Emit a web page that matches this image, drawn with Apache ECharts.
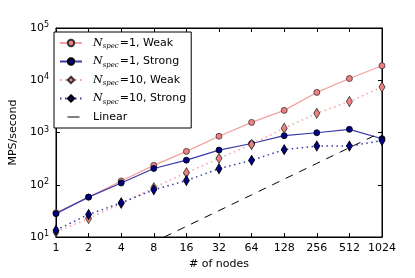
<!DOCTYPE html>
<html><head><meta charset="utf-8">
<script src="https://cdn.jsdelivr.net/npm/echarts@6/dist/echarts.min.js"></script>
<style>html,body{margin:0;padding:0;background:#fff}#c{width:415px;height:278px}</style>
</head><body><div id="c"></div>
<script>
const nodes = [1,2,4,8,16,32,64,128,256,512,1024];
const weak1 = [29,58,118,235,435,850,1560,2650,5850,10800,19000];
const strong1 = [28,58,108,205,296,460,615,870,990,1150,760];
const weak10 = [12.5,22.5,44,88,170,320,590,1210,2330,3920,7400];
const strong10 = [13.5,27,45,80,120,203,293,470,550,550,700];
const linear = [1,2,4,8,16,32,64,128,256,512,1024];
const seriesNames = ['w1','s1','w10','s10','lin'];
const legendLabels = {
  w1: ['1', 'Weak'], s1: ['1', 'Strong'], w10: ['10', 'Weak'], s10: ['10', 'Strong']
};
const pair = (ys) => nodes.map((x,i)=>[x, ys[i]]);
const F = 'DejaVu Sans';
const chart = echarts.init(document.getElementById('c'), null, {renderer:'canvas'});
const pinkLine = '#f4a0a0', pinkFill = '#f08080', navy = '#000080', navyLine = '#3a3aa8';
const xBase = {type:'log', logBase:2, min:1, max:1024, interval:1, splitNumber:10};
const yBase = {type:'log', logBase:10, min:10, max:100000, interval:1};
chart.setOption({
  animation:false,
  grid:{left:50, right:33, top:28, bottom:41, show:true, borderColor:'#000', borderWidth:1, backgroundColor:'transparent'},
  xAxis:[
    Object.assign({}, xBase, {position:'bottom', name:'# of nodes', nameLocation:'middle', nameGap:20,
      nameTextStyle:{fontFamily:F, fontSize:11, color:'#000'},
      axisLine:{show:true, lineStyle:{color:'#000', width:1}},
      axisTick:{show:true, inside:true, length:4, lineStyle:{color:'#000'}},
      axisLabel:{fontFamily:F, fontSize:11, color:'#000', margin:6, showMinLabel:true, showMaxLabel:true, formatter:(v)=>String(Math.round(v))},
      splitLine:{show:false}, minorTick:{show:false}}),
    Object.assign({}, xBase, {position:'top',
      axisLine:{show:true, lineStyle:{color:'#000', width:1}},
      axisTick:{show:true, inside:true, length:4, lineStyle:{color:'#000'}},
      axisLabel:{show:false}, splitLine:{show:false}})
  ],
  yAxis:[
    Object.assign({}, yBase, {position:'left', name:'MPS/second', nameLocation:'middle', nameGap:31,
      nameTextStyle:{fontFamily:F, fontSize:11, color:'#000'},
      axisLine:{show:true, lineStyle:{color:'#000', width:1}},
      axisTick:{show:true, inside:true, length:4, lineStyle:{color:'#000'}},
      axisLabel:{margin:7, formatter:(v)=>'{b|10}{s|'+Math.round(Math.log10(v))+'}',
        rich:{b:{fontFamily:F, fontSize:11, color:'#000'}, s:{fontFamily:F, fontSize:8, color:'#000', verticalAlign:'top', padding:[0,0,6,0]}}},
      splitLine:{show:false}}),
    Object.assign({}, yBase, {position:'right',
      axisLine:{show:true, lineStyle:{color:'#000', width:1}},
      axisTick:{show:true, inside:true, length:4, lineStyle:{color:'#000'}},
      axisLabel:{show:false}, splitLine:{show:false}})
  ],
  legend:{
    orient:'vertical', left:54, top:32,
    backgroundColor:'#fff', borderColor:'#000', borderWidth:1, borderRadius:0,
    padding:[4,5,4,5], itemGap:4.5, itemWidth:22, itemHeight:8,
    data: seriesNames.map(n => n==='lin'
      ? {name:n, icon:'path://M0,0 L0,0.01 M0,8 L0,8.01 M5,3.5 L17,3.5 L17,4.5 L5,4.5 Z', itemStyle:{color:'#000'}}
      : {name:n}),
    formatter:(n)=>{
      if (n==='lin') return '{l|Linear}';
      const l = legendLabels[n];
      return '{it|N}{sub|spec}{t|='+l[0]+', '+l[1]+'}';
    },
    textStyle:{fontFamily:F, fontSize:11, color:'#000', lineHeight:14,
      rich:{
        it:{fontFamily:'DejaVu Serif', fontStyle:'italic', fontSize:11, color:'#000', lineHeight:14, padding:[0,0,0,6]},
        sub:{fontFamily:'DejaVu Serif', fontStyle:'italic', fontSize:7, color:'#000', verticalAlign:'bottom', lineHeight:14, padding:[0,1,0,0]},
        t:{fontFamily:F, fontSize:11, color:'#000', lineHeight:14},
        l:{fontFamily:F, fontSize:11, color:'#000', lineHeight:14, padding:[0,0,0,6]}
      }}
  },
  series:[
    {name:'w1', type:'line', data:pair(weak1), symbol:'circle', symbolSize:6,
      lineStyle:{color:pinkLine, width:1.2}, itemStyle:{color:pinkFill, borderColor:'#333', borderWidth:0.8}, z:2},
    {name:'s1', type:'line', data:pair(strong1), symbol:'circle', symbolSize:6,
      lineStyle:{color:navyLine, width:1.2}, itemStyle:{color:navy, borderColor:'#000', borderWidth:0.8}, z:3},
    {name:'w10', type:'line', data:pair(weak10), symbol:'diamond', symbolSize:[6,10],
      lineStyle:{color:pinkLine, width:1.5, type:[1.5,3.5]}, itemStyle:{color:pinkFill, borderColor:'#333', borderWidth:0.8}, z:4},
    {name:'s10', type:'line', data:pair(strong10), symbol:'diamond', symbolSize:[6,10],
      lineStyle:{color:navyLine, width:1.5, type:[1.5,3.5]}, itemStyle:{color:navy, borderColor:'#000', borderWidth:0.8}, z:5},
    {name:'lin', type:'line', data:pair(linear), symbol:'none', clip:true,
      lineStyle:{color:'#000', width:1, type:[8,7]}, itemStyle:{color:'#000'}, z:6}
  ]
});
</script></body></html>
